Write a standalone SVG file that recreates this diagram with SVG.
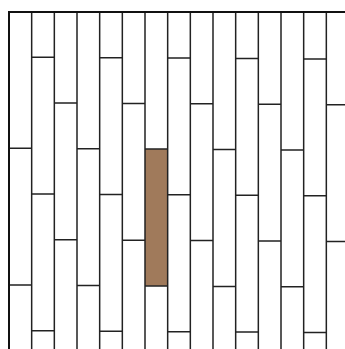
<svg xmlns="http://www.w3.org/2000/svg" width="345" height="349" viewBox="0 0 345 349">
<style>
.j{stroke:#222;stroke-width:1.5;fill:none}
.b{stroke:#111;stroke-width:2;fill:none}
</style>
<rect width="345" height="349" fill="#fff"/>
<g id="highlight">
<rect x="145" y="149.1" width="22.67" height="136.8" fill="#A07A5B"/>
</g>
<g id="verticals" class="j">
<path d="M31.67 12V349M54.33 12V349M77 12V349M99.67 12V349M122.33 12V349M145 12V349M167.67 12V349M190.33 12V349M213 12V349M235.67 12V349M258.33 12V349M281 12V349M303.67 12V349M326.33 12V349"/>
</g>
<g id="joints" class="j">
<path d="M9 148.3H31.67M9 285.1H31.67"/>
<path d="M31.67 57.2H54.33M31.67 193.9H54.33M31.67 330.8H54.33"/>
<path d="M54.33 103H77M54.33 239.8H77"/>
<path d="M77 148.7H99.67M77 285.5H99.67"/>
<path d="M99.67 57.7H122.33M99.67 194.4H122.33M99.67 331.3H122.33"/>
<path d="M122.33 103.4H145M122.33 240.2H145"/>
<path d="M145 149.1H167.67M145 285.9H167.67"/>
<path d="M167.67 58.1H190.33M167.67 194.8H190.33M167.67 331.7H190.33"/>
<path d="M190.33 103.8H213M190.33 240.6H213"/>
<path d="M213 149.6H235.67M213 286.4H235.67"/>
<path d="M235.67 58.5H258.33M235.67 195.3H258.33M235.67 332.1H258.33"/>
<path d="M258.33 104.2H281M258.33 241H281"/>
<path d="M281 150H303.67M281 286.8H303.67"/>
<path d="M303.67 59H326.33M303.67 195.7H326.33M303.67 332.6H326.33"/>
<path d="M326.33 104.7H345M326.33 241.5H345"/>
</g>
<g id="border" class="b">
<path d="M9 349V12H345"/>
</g>
</svg>
